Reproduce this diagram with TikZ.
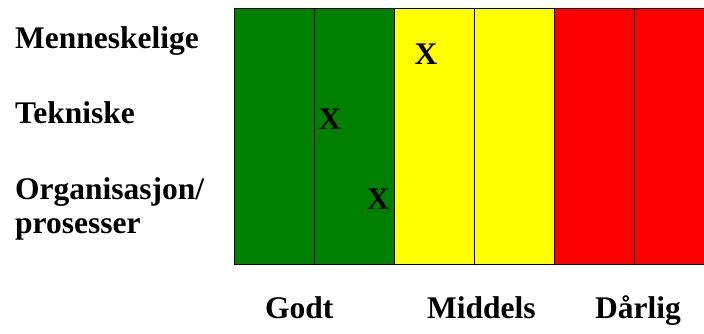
\documentclass[tikz,border=0pt]{standalone}
\usepackage{fontspec}
\setmainfont{Liberation Serif}
\definecolor{godt}{HTML}{008000}
\definecolor{middels}{HTML}{FFFF00}
\definecolor{darlig}{HTML}{FF0000}
\begin{document}
\begin{tikzpicture}[x=1pt,y=-1pt,
  lbl/.style={anchor=base west,inner sep=0pt,font=\fontsize{31.5}{36}\selectfont\bfseries},
  xmark/.style={anchor=base,inner sep=0pt,font=\fontsize{31.5}{36}\selectfont\bfseries},
  cell/.style={draw=black,line width=1pt}]
\clip (0,0) rectangle (704,334);
\fill[white] (0,0) rectangle (704,334);
\filldraw[cell,fill=godt] (234,8.7) rectangle (314.3,264.3);
\filldraw[cell,fill=godt] (314.3,8.7) rectangle (394.3,264.3);
\filldraw[cell,fill=middels] (394.3,8.7) rectangle (474.3,264.3);
\filldraw[cell,fill=middels] (474.3,8.7) rectangle (554.3,264.3);
\filldraw[cell,fill=darlig] (554.3,8.7) rectangle (634.3,264.3);
\filldraw[cell,fill=darlig] (634.3,8.7) rectangle (714.3,264.3);
\node[lbl] (m) at (15,48.3) {Menneskelige};
\node[lbl] (t) at (15,123.3) {Tekniske};
\node[lbl] (o) at (15,199) {Organisasjon/};
\node[lbl] (p) at (15,233) {prosesser};
\node[xmark] (x1) at (426,65) {X};
\node[xmark] (x2) at (330,129.3) {X};
\node[xmark] (x3) at (378.3,209.3) {X};
\node[lbl] (g) at (265,318) {Godt};
\node[lbl] (mi) at (427,318) {Middels};
\node[lbl] (d) at (595,318) {Dårlig};
\end{tikzpicture}
\end{document}
